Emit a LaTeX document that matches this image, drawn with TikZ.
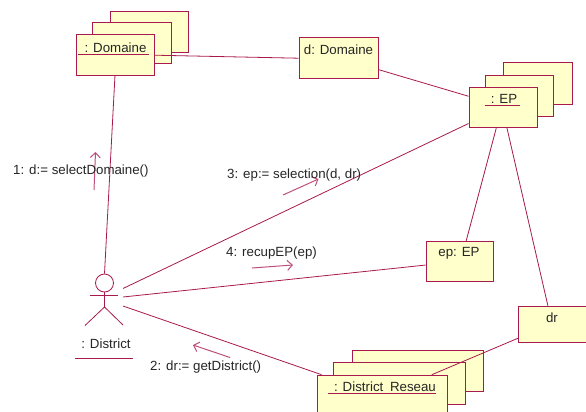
\documentclass[tikz,border=0pt]{standalone}
\usepackage{fontspec}
\setmainfont{Liberation Sans}
\usepackage{xcolor}
\usepackage{tikz}
\tikzset{every picture/.style={font issue=\fontsize{13.3}{15}},
         font issue/.style={execute at begin picture={#1\selectfont}}
        }
\usetikzlibrary{arrows.meta}
\definecolor{umlline}{HTML}{A81A4E}
\definecolor{umlfill}{HTML}{FFFFCB}
\definecolor{umlmsg}{HTML}{BE4F7C}
\definecolor{umltext}{HTML}{262626}
\tikzstyle{objbox}=[draw=umlline,fill=umlfill,line width=0.9pt,inner sep=0,anchor=north west]
\tikzstyle{objtext}=[text=umltext,inner sep=0]
\tikzstyle{msgtext}=[text=umltext,inner sep=0,anchor=west]
\tikzstyle{link} = [draw,umlline,line width=0.8pt]
\tikzstyle{uline} = [draw,umlline,line width=0.8pt]
\tikzstyle{msg} = [>={Straight Barb[length=5pt,width=10pt]},draw,umlmsg,line width=1pt]

\begin{document}
\begin{tikzpicture}[x=1pt,y=-1pt]
	\clip (0,0) rectangle (586,412);
	\fill[white] (0,0) rectangle (586,412);

	\node[objbox,minimum width=78pt,minimum height=41pt] (domc) at (110,11) {};
	\node[objbox,minimum width=79pt,minimum height=41pt] (domb) at (92,22.5) {};
	\node[objbox,minimum width=78pt,minimum height=40.5pt] (doma) at (75.5,34.5) {};
	\node[objbox,minimum width=79.5pt,minimum height=40.5pt] (dd) at (298.5,37.5) {};
	\node[objbox,minimum width=68.5pt,minimum height=41.5pt] (epc) at (503,62.5) {};
	\node[objbox,minimum width=68pt,minimum height=41pt] (epb) at (485,75) {};
	\node[objbox,minimum width=68pt,minimum height=40pt] (epa) at (468.5,87) {};
	\node[objbox,minimum width=67.5pt,minimum height=40pt] (epp) at (425.7,241) {};
	\node[objbox,minimum width=67.5pt,minimum height=36.5pt] (dr) at (518,305.7) {};
	\node[objbox,minimum width=130.5pt,minimum height=41pt] (resc) at (352,350) {};
	\node[objbox,minimum width=132pt,minimum height=42pt] (resb) at (333,362) {};
	\node[objbox,minimum width=130pt,minimum height=41pt] (resa) at (317,374.7) {};

	\node[objtext] (domt) at (115.5,48) {: Domaine};
	\node[objtext] (ddt) at (338.5,49.5) {d: Domaine};
	\node[objtext] (ept) at (504,99.3) {: EP};
	\node[objtext] (eppt) at (459,253) {ep: EP};
	\node[objtext] (drt) at (552,317.7) {dr};
	\node[objtext] (rest) at (385,387) {: District\hspace{3pt} Reseau};

	\path[uline] ([xshift=-6,yshift=-1]domt.south west) -- ([xshift=2,yshift=-1]domt.south east);
	\path[uline] ([xshift=-6,yshift=-1.3]ept.south west) -- ([xshift=3,yshift=-1.3]ept.south east);
	\path[uline] ([xshift=-6,yshift=-1.3]rest.south west) -- ([xshift=0,yshift=-1.3]rest.south east);

	\node[draw=umlline,line width=0.8pt,circle,minimum size=18pt,inner sep=0] (head) at (104.5,283) {};
	\coordinate (hip) at (104.5,307);
	\coordinate (arml) at (90,295.5);
	\coordinate (armr) at (118,295.5);
	\coordinate (legl) at (85,325.5);
	\coordinate (legr) at (123,325);
	\path[link] (head.south) -- (hip);
	\path[link] (arml) -- (armr);
	\path[link] (legl) -- (hip) -- (legr);
	\node[objtext] (act) at (106,344) {: District};
	\coordinate (actul) at (75,358);
	\coordinate (actur) at (133,358);
	\path[uline] (actul) -- (actur);

	\coordinate (actep) at (123,288.5);
	\coordinate (actpp) at (123,297);
	\coordinate (actre) at (123,306);

	\path[link] (doma.south) edge (head.north);
	\path[link] (doma.east) edge (dd.west);
	\path[link] (dd.-16) edge (epa.162);
	\path[link] (actep) edge (epa.205);
	\path[link] (actpp) edge (epp.186);
	\path[link] (actre) edge (resa.161);
	\path[link] (epa.252) edge (epp.73);
	\path[link] (epa.281) edge (dr.103);
	\path[link] (dr.202) edge (resa.23);

	\coordinate (m1a) at (94,190);
	\coordinate (m1b) at (95.5,152);
	\coordinate (m2a) at (230,357.5);
	\coordinate (m2b) at (193,345);
	\coordinate (m3a) at (283,195);
	\coordinate (m3b) at (318.5,179);
	\coordinate (m4a) at (252,268);
	\coordinate (m4b) at (293,265);
	\path[msg,->] (m1a) -- (m1b);
	\path[msg,->] (m2a) -- (m2b);
	\path[msg,->] (m3a) -- (m3b);
	\path[msg,->] (m4a) -- (m4b);

	\node[msgtext] (m1t) at (13,171.5) {1: d:= selectDomaine()};
	\node[msgtext] (m2t) at (150,367) {2: dr:= getDistrict()};
	\node[msgtext] (m3t) at (227,175.5) {3: ep:= selection(d, dr)};
	\node[msgtext] (m4t) at (226,253) {4: recupEP(ep)};
\end{tikzpicture}
\end{document}
